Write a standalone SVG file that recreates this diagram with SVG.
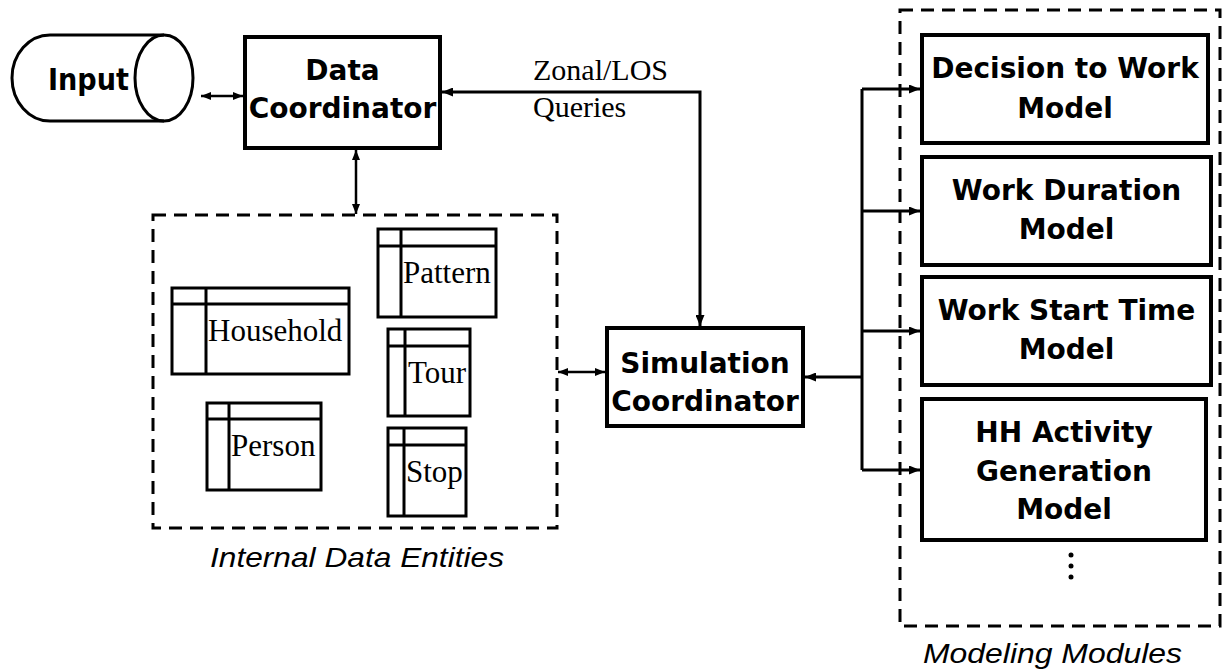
<svg xmlns="http://www.w3.org/2000/svg" width="1230" height="670" viewBox="0 0 1230 670">
  <style>
    .box { fill: #fff; stroke: #000; stroke-width: 4; }
    .tbl { fill: #fff; stroke: #000; stroke-width: 3; }
    .dash { fill: none; stroke: #000; stroke-width: 3; stroke-dasharray: 13 8; }
    .wire { fill: none; stroke: #000; stroke-width: 3; }
    .thin { fill: none; stroke: #000; stroke-width: 2.5; }
    .bold { font-family: "DejaVu Sans", Verdana, sans-serif; font-weight: bold; font-size: 28px; fill: #000; text-anchor: middle; }
    .serif { font-family: "Liberation Serif", "Times New Roman", serif; font-size: 31px; fill: #000; }
    .cap { font-family: "Liberation Sans", Arial, sans-serif; font-style: italic; font-size: 28px; fill: #000; }
  </style>
  <defs>
    <!-- small head for the short links -->
    <marker id="arrow" viewBox="0 0 10 8" refX="10" refY="4" markerWidth="10" markerHeight="8" markerUnits="userSpaceOnUse" orient="auto-start-reverse">
      <path d="M0,0 L10,4 L0,8 Z" fill="#000"/>
    </marker>
    <!-- larger head for the thick trunk lines -->
    <marker id="arrow-lg" viewBox="0 0 11 9" refX="11" refY="4.5" markerWidth="11" markerHeight="9" markerUnits="userSpaceOnUse" orient="auto-start-reverse">
      <path d="M0,0 L11,4.5 L0,9 Z" fill="#000"/>
    </marker>
  </defs>

  <!-- grouping frames -->
  <rect id="internal-frame" class="dash" x="153" y="215" width="404" height="313"/>
  <rect id="modules-frame" class="dash" x="900" y="10" width="320" height="616"/>
  <text class="cap" x="210" y="567" textLength="294" lengthAdjust="spacingAndGlyphs">Internal Data Entities</text>
  <text class="cap" x="923" y="663" textLength="259" lengthAdjust="spacingAndGlyphs">Modeling Modules</text>

  <!-- connectors -->
  <g id="connectors">
    <line class="thin" x1="201" y1="96" x2="243" y2="96" marker-start="url(#arrow)" marker-end="url(#arrow)"/>
    <line class="thin" x1="356" y1="150" x2="356" y2="214" marker-start="url(#arrow)" marker-end="url(#arrow)"/>
    <path class="wire" d="M442,92 H700 V326" marker-start="url(#arrow-lg)" marker-end="url(#arrow-lg)"/>
    <line class="thin" x1="558" y1="372" x2="605" y2="372" marker-start="url(#arrow)" marker-end="url(#arrow)"/>
    <line class="wire" x1="862" y1="377" x2="805" y2="377" marker-end="url(#arrow-lg)"/>
    <path class="wire" d="M862,89 V470"/>
    <line class="wire" x1="862" y1="89" x2="920" y2="89" marker-end="url(#arrow-lg)"/>
    <line class="wire" x1="862" y1="211" x2="920" y2="211" marker-end="url(#arrow-lg)"/>
    <line class="wire" x1="862" y1="331" x2="920" y2="331" marker-end="url(#arrow-lg)"/>
    <line class="wire" x1="862" y1="470" x2="920" y2="470" marker-end="url(#arrow-lg)"/>
  </g>

  <!-- data store -->
  <g id="input">
    <path d="M164,35 H50 A38,43 0 0 0 50,121 H164" fill="#fff" stroke="#000" stroke-width="3"/>
    <ellipse cx="164" cy="78" rx="29" ry="43" fill="none" stroke="#000" stroke-width="3"/>
    <text class="bold" x="48" y="90" style="text-anchor:start;font-size:31px" textLength="81" lengthAdjust="spacingAndGlyphs">Input</text>
  </g>

  <g id="data-coordinator">
    <rect class="box" x="245" y="37" width="195" height="111"/>
    <text class="bold" x="342.5" y="80">Data</text>
    <text class="bold" x="342.5" y="118">Coordinator</text>
  </g>

  <g id="simulation-coordinator">
    <rect class="box" x="607" y="328" width="196" height="98"/>
    <text class="bold" x="705" y="373">Simulation</text>
    <text class="bold" x="705" y="411">Coordinator</text>
  </g>

  <!-- data entity tables -->
  <g id="pattern">
    <rect class="tbl" x="378" y="229" width="118" height="88"/>
    <line class="tbl" x1="401" y1="229" x2="401" y2="317"/>
    <line class="tbl" x1="378" y1="246" x2="496" y2="246"/>
    <text class="serif" x="403" y="283">Pattern</text>
  </g>
  <g id="household">
    <rect class="tbl" x="172" y="288" width="177" height="86"/>
    <line class="tbl" x1="206" y1="288" x2="206" y2="374"/>
    <line class="tbl" x1="172" y1="304" x2="349" y2="304"/>
    <text class="serif" x="208" y="341">Household</text>
  </g>
  <g id="tour">
    <rect class="tbl" x="388" y="329" width="82" height="87"/>
    <line class="tbl" x1="405" y1="329" x2="405" y2="416"/>
    <line class="tbl" x1="388" y1="346" x2="470" y2="346"/>
    <text class="serif" x="408" y="383">Tour</text>
  </g>
  <g id="person">
    <rect class="tbl" x="207" y="403" width="114" height="87"/>
    <line class="tbl" x1="229" y1="403" x2="229" y2="490"/>
    <line class="tbl" x1="207" y1="419" x2="321" y2="419"/>
    <text class="serif" x="231" y="456">Person</text>
  </g>
  <g id="stop">
    <rect class="tbl" x="388" y="428" width="78" height="88"/>
    <line class="tbl" x1="404" y1="428" x2="404" y2="516"/>
    <line class="tbl" x1="388" y1="445" x2="466" y2="445"/>
    <text class="serif" x="406" y="482">Stop</text>
  </g>

  <!-- model modules -->
  <g id="decision-to-work">
    <rect class="box" x="922" y="35" width="286" height="108"/>
    <text class="bold" x="1065" y="78">Decision to Work</text>
    <text class="bold" x="1065" y="118">Model</text>
  </g>
  <g id="work-duration">
    <rect class="box" x="922" y="157" width="289" height="108"/>
    <text class="bold" x="1066.5" y="200">Work Duration</text>
    <text class="bold" x="1066.5" y="239">Model</text>
  </g>
  <g id="work-start-time">
    <rect class="box" x="922" y="277" width="289" height="108"/>
    <text class="bold" x="1066.5" y="320">Work Start Time</text>
    <text class="bold" x="1066.5" y="359">Model</text>
  </g>
  <g id="hh-activity">
    <rect class="box" x="922" y="399" width="284" height="141"/>
    <text class="bold" x="1064" y="442">HH Activity</text>
    <text class="bold" x="1064" y="481">Generation</text>
    <text class="bold" x="1064" y="519">Model</text>
  </g>
  <g id="more-modules">
    <circle cx="1071" cy="555" r="2.5"/>
    <circle cx="1071" cy="566" r="2.5"/>
    <circle cx="1071" cy="577" r="2.5"/>
  </g>

  <!-- query label -->
  <text class="serif" x="533" y="80" style="font-size:30px">Zonal/LOS</text>
  <text class="serif" x="533" y="117" style="font-size:30px">Queries</text>
</svg>
